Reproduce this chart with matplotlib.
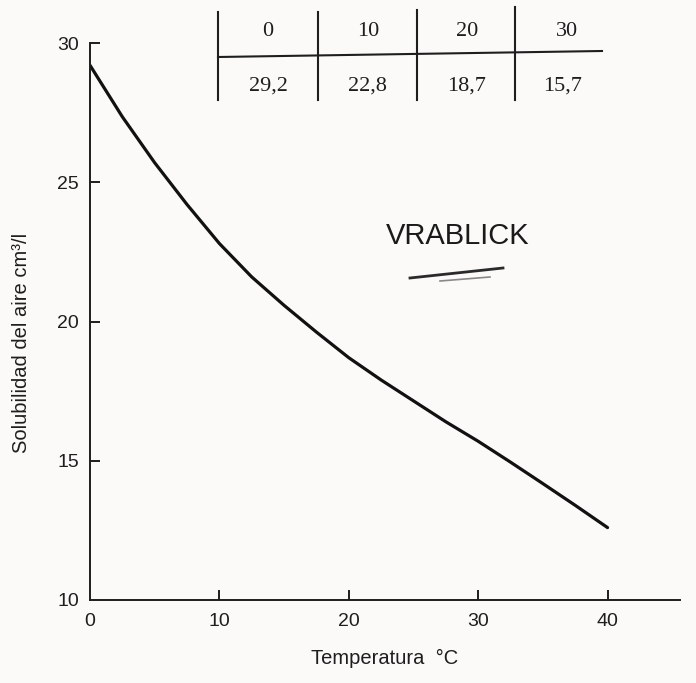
import matplotlib
matplotlib.use('Agg')
import matplotlib.pyplot as plt
from matplotlib.lines import Line2D

# Values
temp = [0, 2.5, 5, 7.5, 10, 12.5, 15, 17.5, 20, 22.5, 25, 27.5, 30, 32.5, 35, 37.5, 40]
solub = [29.2, 27.35, 25.7, 24.2, 22.8, 21.6, 20.58, 19.62, 18.7, 17.9, 17.15, 16.4, 15.7,
         14.95, 14.18, 13.4, 12.6]

# Small table printed above the curve
table_temp = ['0', '10', '20', '30']
table_sol = ['29,2', '22,8', '18,7', '15,7']

x_ticks = [0, 10, 20, 30, 40]
y_ticks = [10, 15, 20, 25, 30]

plt.rcParams['font.family'] = ['Liberation Sans', 'DejaVu Sans']
INK = '#1e1e1e'

W, H = 696, 683
fig = plt.figure(figsize=(W / 100, H / 100), dpi=100)
fig.patch.set_facecolor('#fbfaf8')

# helpers: pixel position -> figure fraction
def fx(px):
    return px / W

def fy(py):
    return 1 - py / H

ax = fig.add_axes([fx(90), fy(600), (680 - 90) / W, (600 - 43) / H])
ax.set_facecolor('none')

ax.plot(temp, solub, color='#111111', lw=2.3, solid_capstyle='round',
        solid_joinstyle='round')

ax.set_xlim(0, 45.6)
ax.set_ylim(10, 30)
ax.set_xticks(x_ticks)
ax.set_yticks(y_ticks)
ax.spines['top'].set_visible(False)
ax.spines['right'].set_visible(False)
for s in ['left', 'bottom']:
    ax.spines[s].set_linewidth(1.4)
    ax.spines[s].set_color(INK)
ax.tick_params(direction='in', length=7.5, width=1.4, labelsize=14,
               colors=INK)
ax.tick_params(axis='x', pad=9)
ax.tick_params(axis='y', pad=8)
# no tick marks at the corner
ax.xaxis.get_major_ticks()[0].tick1line.set_visible(False)
ax.yaxis.get_major_ticks()[0].tick1line.set_visible(False)

ax.set_xlabel('Temperatura  °C', fontsize=14.5, labelpad=14, color=INK)
fig.text(fx(22), fy(343), 'Solubilidad del aire cm³/l', rotation=90,
         ha='center', va='center', fontsize=14.5, color=INK)

# table in the top part
rule_kw = dict(color=INK, lw=1.5)
fig.add_artist(Line2D([fx(218), fx(602)], [fy(57), fy(51)], **rule_kw))
col_x = [218, 318, 417, 515]
col_top = [12, 12, 10, 7]
for x, top in zip(col_x, col_top):
    fig.add_artist(Line2D([fx(x), fx(x)], [fy(top), fy(100)], **rule_kw))

head_c = [268, 368, 467, 567]
val_c = [268, 367, 467, 563]
for hc, vc, t, s in zip(head_c, val_c, table_temp, table_sol):
    fig.text(fx(hc), fy(31), t, ha='center', va='center', fontsize=16,
             family='Liberation Serif', color=INK)
    fig.text(fx(vc), fy(86), s, ha='center', va='center', fontsize=16,
             family='Liberation Serif', color=INK)

# handwritten note with underline
fig.text(fx(458), fy(236), 'VRABLICK', ha='center', va='center', fontsize=21,
         color='#1a1a1a')
fig.add_artist(Line2D([fx(410), fx(503)], [fy(278), fy(268)], color='#2a2a2a', lw=2))
fig.add_artist(Line2D([fx(440), fx(490)], [fy(281), fy(277)], color='#888888', lw=1.2))

fig.savefig('out.png', dpi=100, facecolor=fig.get_facecolor())
